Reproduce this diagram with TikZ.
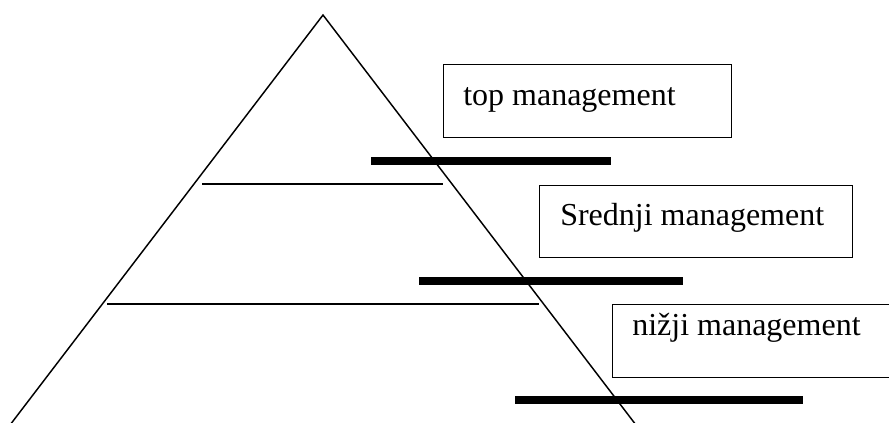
\documentclass[tikz,border=0pt]{standalone}
\usepackage{fontspec}
\setmainfont{Liberation Serif}
\begin{document}
\begin{tikzpicture}[x=0.75pt,y=-0.75pt,
  thin line/.style={line width=1.1pt},
  level bar/.style={line width=6pt},
  lvlbox/.style={draw,line width=1.1pt,rectangle,inner sep=0pt,anchor=north west},
  lvltext/.style={anchor=base west,inner sep=0pt,font=\fontsize{24pt}{28pt}\selectfont}]
\useasboundingbox (0,0) rectangle (889,422);
\clip (0,0) rectangle (889,422);

% pyramid outline
\coordinate (apex) at (323,15);
\coordinate (footL) at (10,425);
\coordinate (footR) at (636,425);
\draw[thin line,line join=miter] (footL) -- (apex) -- (footR);

% level dividers inside the pyramid
\coordinate (d1a) at (202,184);
\coordinate (d1b) at (443,184);
\coordinate (d2a) at (107,304);
\coordinate (d2b) at (539,304);
\draw[thin line] (d1a) -- (d1b);
\draw[thin line] (d2a) -- (d2b);

% heavy bars
\coordinate (b1a) at (371,160.5);
\coordinate (b1b) at (611,160.5);
\coordinate (b2a) at (419,280.5);
\coordinate (b2b) at (683,280.5);
\coordinate (b3a) at (515,400);
\coordinate (b3b) at (803,400);
\draw[level bar] (b1a) -- (b1b);
\draw[level bar] (b2a) -- (b2b);
\draw[level bar] (b3a) -- (b3b);

% level boxes (sizes in pt: 1 unit = 0.75pt)
\node[lvlbox,minimum width=216pt,minimum height=54.75pt] (topbox) at (443,64) {};
\node[lvltext] (toptext) at (463,105) {top management};

\node[lvlbox,minimum width=234.75pt,minimum height=54pt] (midbox) at (539,185) {};
\node[lvltext] (midtext) at (560,225) {Srednji management};

\node[lvlbox,minimum width=225pt,minimum height=54.75pt] (lowbox) at (612,304) {};
\node[lvltext] (lowtext) at (632,335) {nižji management};
\end{tikzpicture}
\end{document}
